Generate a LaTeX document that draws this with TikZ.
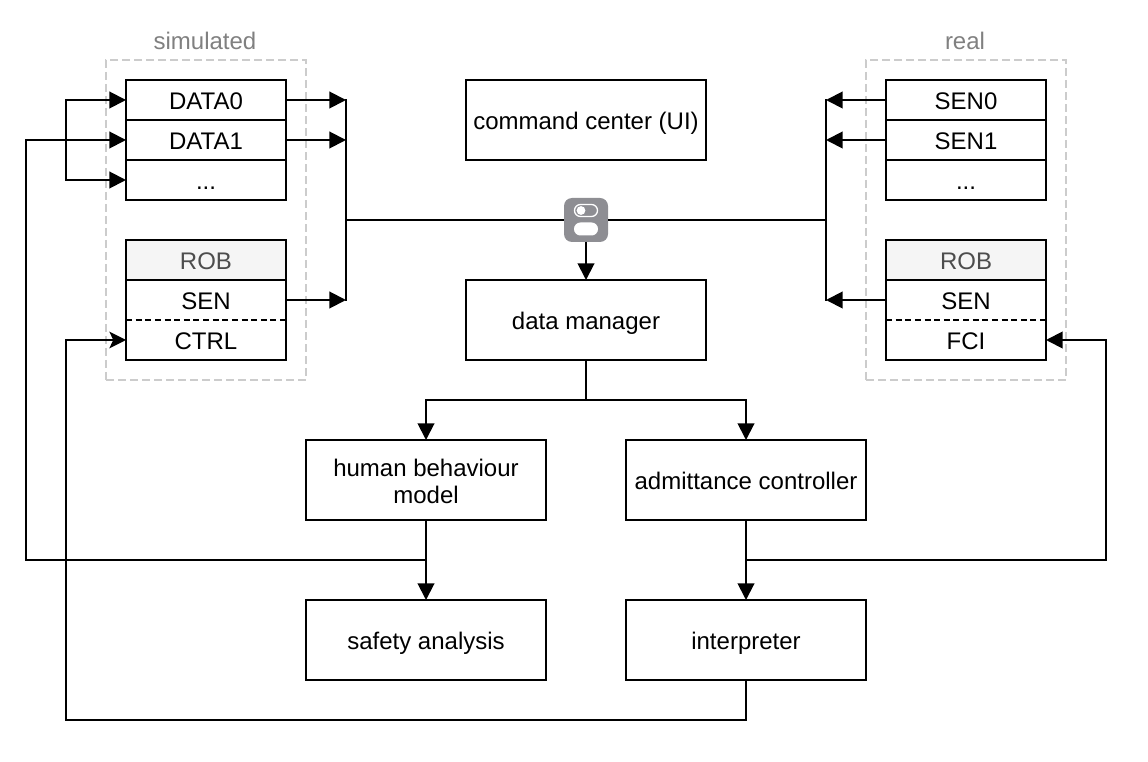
\documentclass[tikz,border=0pt]{standalone}
\usepackage{fontspec}
\setmainfont{Liberation Sans}
\usetikzlibrary{arrows.meta,calc}
\definecolor{iconGray}{HTML}{8E8E93}
\definecolor{dashGray}{HTML}{CCCCCC}
\definecolor{titleGray}{HTML}{808080}
\definecolor{robFill}{HTML}{F5F5F5}
\definecolor{robText}{HTML}{4D4D4D}
\tikzset{
  x=0.75pt,y=-0.75pt,
  every node/.style={font=\fontsize{18}{20.25}\selectfont,inner sep=0pt,outer sep=0pt,align=center,text=black},
  wire/.style={line width=1.5pt,line join=miter},
  flow/.style={wire,-{Triangle[length=12.5pt,width=12.5pt,sharp]}},
  notched/.style={wire,-{Stealth[length=12.5pt,width=12.5pt,inset=3pt]}},
  capfix/.style={text height=14.7pt,text depth=0.8pt},
  block/.style={draw=black,line width=1.5pt,minimum width=180pt,minimum height=60pt},
  oneline/.style={block,capfix},
  row/.style={draw=black,line width=1.5pt,minimum width=120pt,minimum height=30pt,capfix},
  plainrow/.style={minimum width=120pt,minimum height=30pt,capfix},
  robhead/.style={row,fill=robFill,text=robText},
  group/.style={draw=dashGray,line width=1.5pt,dash pattern=on 6pt off 3pt,minimum width=150pt,minimum height=240pt},
  grouptitle/.style={text=titleGray},
  sep/.style={line width=1.5pt,dash pattern=on 4.5pt off 2.72pt},
}
\begin{document}
\begin{tikzpicture}
\useasboundingbox (0,0) rectangle (1148,762);
% groups
\node[group] (gsim) at (206,220) {};
\node[group] (greal) at (966,220) {};
\node[grouptitle] (tsim) at (205,41) {simulated};
\node[grouptitle] (treal) at (965,41) {real};
% simulated rows
\node[row] (d0) at (206,100) {DATA0};
\node[row] (d1) at (206,140) {DATA1};
\node[row] (d2) at (206,180) {...};
\node[robhead] (rs) at (206,260) {ROB};
\node[plainrow] (ss) at (206,300) {SEN};
\node[plainrow] (cs) at (206,340) {CTRL};
\draw[line width=1.5pt] (rs.south west) rectangle (cs.south east);
\draw[sep] (ss.south west) -- (ss.south east);
% real rows
\node[row] (r0) at (966,100) {SEN0};
\node[row] (r1) at (966,140) {SEN1};
\node[row] (r2) at (966,180) {...};
\node[robhead] (rr) at (966,260) {ROB};
\node[plainrow] (sr) at (966,300) {SEN};
\node[plainrow] (fr) at (966,340) {FCI};
\draw[line width=1.5pt] (rr.south west) rectangle (fr.south east);
\draw[sep] (sr.south west) -- (sr.south east);
% main blocks
\node[oneline] (cc) at (586,120) {command center (UI)};
\node[oneline] (dm) at (586,320) {data manager};
\node[block] (hb) at (426,480) {};
\node[inner sep=0pt] (hbt) at (426,481) {human behaviour\\model};
\node[oneline] (ac) at (746,480) {admittance controller};
\node[oneline] (sa) at (426,640) {safety analysis};
\node[oneline] (ip) at (746,640) {interpreter};
% switch icon
\node[minimum width=33pt,minimum height=33pt,fill=iconGray,rounded corners=6pt] (sw) at (586,220) {};
\draw[white,line width=1pt,rounded corners=4.5pt] (574.5,204.5) rectangle (597.5,216.5);
\fill[white] (581,210.5) circle (3.3pt);
\fill[white,rounded corners=4.8pt] (574,222.5) rectangle (598,235.5);
% junction coordinates
\coordinate (bl0) at (346,100);
\coordinate (bl1) at (346,140);
\coordinate (bl2) at (346,300);
\coordinate (blm) at (346,220);
\coordinate (br0) at (826,100);
\coordinate (br1) at (826,140);
\coordinate (br2) at (826,300);
\coordinate (brm) at (826,220);
\coordinate (dmj) at (586,400);
\coordinate (hj) at (426,560);
\coordinate (aj) at (746,560);
\coordinate (lj) at (66,140);
\coordinate (lt) at (66,100);
\coordinate (lb) at (66,180);
\coordinate (far) at (26,560);
\coordinate (farr) at (1106,560);
\coordinate (ipb) at (746,720);
\coordinate (ipl) at (66,720);
% left bus
\draw[flow] (d0.east) -- (bl0);
\draw[flow] (d1.east) -- (bl1);
\draw[flow] (ss.east) -- (bl2);
\draw[wire,line cap=rect] (bl0) -- (bl2);
\draw[wire] (blm) -- (sw.west);
% right bus
\draw[flow] (r0.west) -- (br0);
\draw[flow] (r1.west) -- (br1);
\draw[flow] (sr.west) -- (br2);
\draw[wire,line cap=rect] (br0) -- (br2);
\draw[wire] (brm) -- (sw.east);
% centre
\draw[flow] (sw.south) -- (dm.north);
\draw[flow] (dm.south) -- (dmj) -| (hb.north);
\draw[flow] (dmj) -| (ac.north);
\draw[flow] (hb.south) -- (sa.north);
\draw[flow] (ac.south) -- (ip.north);
% feedback
\draw[flow] (hj) -- (far) |- (d1.west);
\draw[flow] (lj) -- (lt) -- (d0.west);
\draw[flow] (lj) -- (lb) -- (d2.west);
\draw[flow] (aj) -- (farr) |- (fr.east);
\draw[notched] (ip.south) -- (ipb) -- (ipl) |- (cs.west);
\end{tikzpicture}
\end{document}
